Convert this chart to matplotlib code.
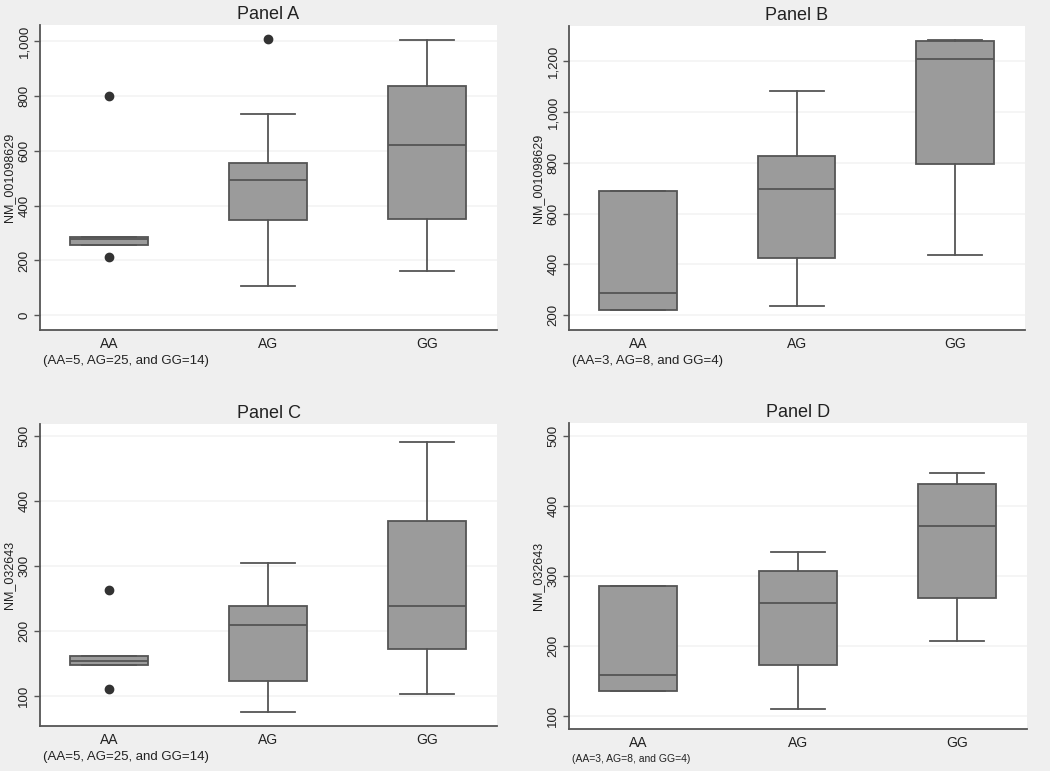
import matplotlib
matplotlib.use("Agg")
import matplotlib.pyplot as plt

plt.rcParams['font.family'] = ['Liberation Sans', 'DejaVu Sans']

categories = ["AA", "AG", "GG"]

# Panel A: NM_001098629 (AA=5, AG=25, GG=14)
a_whislo = [255, 105, 161]
a_q1 = [255, 347, 352]
a_med = [278, 494, 620]
a_q3 = [285, 556, 836]
a_whishi = [285, 735, 1006]
a_fliers = [[800, 212], [1008], []]

# Panel B: NM_001098629 (AA=3, AG=8, GG=4)
b_whislo = [220, 238, 437]
b_q1 = [220, 427, 794]
b_med = [287, 698, 1208]
b_q3 = [690, 828, 1279]
b_whishi = [690, 1083, 1283]
b_fliers = [[], [], []]

# Panel C: NM_032643 (AA=5, AG=25, GG=14)
c_whislo = [148, 75, 104]
c_q1 = [148, 123, 173]
c_med = [154, 209, 239]
c_q3 = [162, 238, 370]
c_whishi = [162, 305, 492]
c_fliers = [[264, 111], [], []]

# Panel D: NM_032643 (AA=3, AG=8, GG=4)
d_whislo = [136, 110, 207]
d_q1 = [136, 173, 268]
d_med = [159, 262, 371]
d_q3 = [285, 307, 432]
d_whishi = [285, 334, 447]
d_fliers = [[], [], []]

W, H = 1050, 771
fig = plt.figure(figsize=(W / 100, H / 100), dpi=100)
fig.patch.set_facecolor("#efefef")

panels = [
    dict(title="Panel A", ylabel="NM_001098629", box=(40, 25, 497, 330),
         data=(a_whislo, a_q1, a_med, a_q3, a_whishi, a_fliers),
         ylim=(-54, 1060), yticks=[0, 200, 400, 600, 800, 1000],
         note="(AA=5, AG=25, and GG=14)", note_xy=(43, 361), note_fs=9.5),
    dict(title="Panel B", ylabel="NM_001098629", box=(569, 26, 1025, 330),
         data=(b_whislo, b_q1, b_med, b_q3, b_whishi, b_fliers),
         ylim=(142, 1338), yticks=[200, 400, 600, 800, 1000, 1200],
         note="(AA=3, AG=8, and GG=4)", note_xy=(572, 361), note_fs=9.5),
    dict(title="Panel C", ylabel="NM_032643", box=(40, 424, 497, 726),
         data=(c_whislo, c_q1, c_med, c_q3, c_whishi, c_fliers),
         ylim=(54, 519), yticks=[100, 200, 300, 400, 500],
         note="(AA=5, AG=25, and GG=14)", note_xy=(43, 757), note_fs=9.5),
    dict(title="Panel D", ylabel="NM_032643", box=(569, 423, 1027, 729),
         data=(d_whislo, d_q1, d_med, d_q3, d_whishi, d_fliers),
         ylim=(81, 519), yticks=[100, 200, 300, 400, 500],
         note="(AA=3, AG=8, and GG=4)", note_xy=(572, 759), note_fs=7.5),
]

edge = "#555555"
fill = "#9b9b9b"

for p in panels:
    l, t, r, b = p["box"]
    ax = fig.add_axes([l / W, 1 - b / H, (r - l) / W, (b - t) / H])
    ax.set_facecolor("white")
    wl, q1, md, q3, wh, fl = p["data"]
    stats = []
    for i, c in enumerate(categories):
        stats.append(dict(label=c, whislo=wl[i], q1=q1[i], med=md[i],
                          q3=q3[i], whishi=wh[i], fliers=fl[i]))
    ax.bxp(stats, positions=[1, 2, 3], widths=0.49, capwidths=0.34,
           patch_artist=True,
           boxprops=dict(facecolor=fill, edgecolor=edge, linewidth=1.3),
           medianprops=dict(color=edge, linewidth=1.3),
           whiskerprops=dict(color=edge, linewidth=1.3),
           capprops=dict(color=edge, linewidth=1.3),
           flierprops=dict(marker="o", markerfacecolor="#333333",
                           markeredgecolor="#333333", markersize=6),
           zorder=3)
    ax.set_xlim(0.565, 3.44)
    ax.set_ylim(*p["ylim"])
    ax.set_yticks(p["yticks"])
    ax.set_yticklabels([f"{v:,}" for v in p["yticks"]], rotation=90,
                       va="center", fontsize=9.5, color="#222222")
    ax.set_xticks([1, 2, 3])
    ax.set_xticklabels(categories, fontsize=10, color="#222222")
    ax.tick_params(axis="x", length=0, pad=5)
    ax.tick_params(axis="y", length=4, width=1, color=edge, pad=3)
    ax.yaxis.grid(True, color="#f3f3f3", linewidth=1.2, zorder=0)
    ax.set_axisbelow(True)
    for s in ["top", "right"]:
        ax.spines[s].set_visible(False)
    for s in ["left", "bottom"]:
        ax.spines[s].set_color(edge)
        ax.spines[s].set_linewidth(1.3)
    ax.set_ylabel(p["ylabel"], fontsize=9, color="#222222", labelpad=2)
    ax.set_title(p["title"], fontsize=13, color="#222222", pad=4)
    nx, ny = p["note_xy"]
    fig.text(nx / W, 1 - ny / H, p["note"], fontsize=p["note_fs"],
             color="#222222", va="center", ha="left")

fig.savefig("out.png", dpi=100, facecolor=fig.get_facecolor())
